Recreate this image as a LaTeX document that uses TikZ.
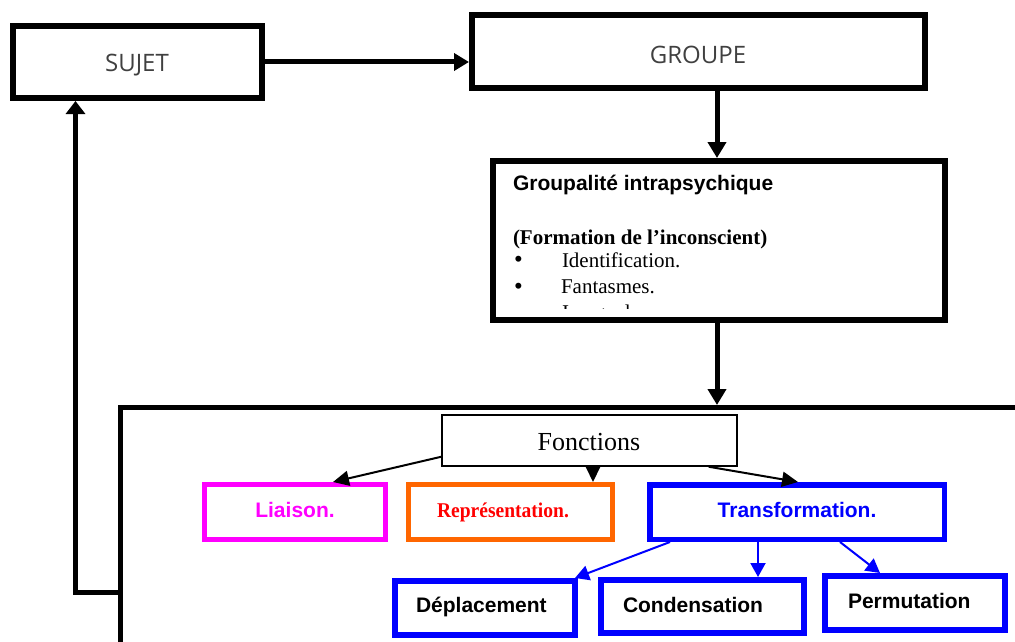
\documentclass[tikz,border=0pt]{standalone}
\usepackage{fontspec}
\setmainfont{Liberation Serif}
\newfontfamily\arialf{Liberation Sans}
\newfontfamily\osans{Open Sans}
\usetikzlibrary{arrows.meta,calc}
\definecolor{mag}{HTML}{FF00FF}
\definecolor{orng}{HTML}{FF6600}
\definecolor{rd}{HTML}{FF0000}
\definecolor{bl}{HTML}{0000FF}
\definecolor{txtgray}{HTML}{404040}
\begin{document}
\begin{tikzpicture}[x=1pt,y=-1pt,
  boxnode/.style={draw,inner sep=0pt,line width=6pt},
  cbox/.style={draw=#1,inner sep=0pt,line width=5.5pt},
  lbl/.style={inner sep=0pt,outer sep=0pt},
  osfont/.style={font=\osans\fontsize{24}{28}\selectfont,text=txtgray},
  arb/.style={font=\arialf\bfseries\fontsize{21}{25}\selectfont},
  tmr/.style={font=\fontsize{21}{25}\selectfont},
  bulletfont/.style={font=\arialf\fontsize{22}{22}\selectfont},
  thickarrow/.style={line width=5pt,-{Triangle[length=16pt,width=18pt]}},
  thinarrow/.style={line width=2pt,-{Triangle[length=16pt,width=15pt]}},
  bluearrow/.style={line width=2pt,draw=bl,-{Triangle[length=14pt,width=15pt,fill=bl]}}]
\useasboundingbox (0,0) rectangle (1015,642);
\fill[white] (0,0) rectangle (1015,642);

% top boxes
\node[boxnode,minimum width=249pt,minimum height=72pt] (sujet) at (137.5,62) {};
\node[lbl,osfont,anchor=base] (sujett) at (137,71) {SUJET};
\node[boxnode,minimum width=453pt,minimum height=73pt] (groupe) at (698.5,51.5) {};
\node[lbl,osfont,anchor=base] (groupet) at (698,64) {GROUPE};

% groupalite box
\node[boxnode,minimum width=452pt,minimum height=159pt] (gpi) at (718.5,240.5) {};
\node[lbl,arb,anchor=base west] (gpit) at (513,190) {Groupalité intrapsychique};
\node[lbl,font=\bfseries\fontsize{21}{25}\selectfont,anchor=base west] (form) at (513,244) {(Formation de l’inconscient)};
\node[lbl,bulletfont] (b1) at (518.5,261) {•};
\node[lbl,tmr,anchor=base west] (ident) at (562,267) {Identification.};
\node[lbl,bulletfont] (b2) at (518.5,288) {•};
\node[lbl,tmr,anchor=base west] (fant) at (561,293) {Fantasmes.};
\begin{scope}
  \clip (495,300) rectangle (900,308);
  \node[lbl,tmr,anchor=base west] (img) at (562,319) {Image du corps.};
\end{scope}

% big lower frame
\begin{scope}
  \clip (0,0) rectangle (1015,642);
  \draw[line width=5pt] (120,680) -- (120,407.5) -- (1060,407.5);
\end{scope}
\coordinate (bigtop) at (717,405);
\coordinate (bigleft) at (117.5,592);

% fonctions
\node[draw,inner sep=0pt,line width=1.5pt,minimum width=295pt,minimum height=51pt] (fonc) at (589.5,440.5) {};
\node[lbl,font=\fontsize{26}{30}\selectfont,anchor=base] (fonct) at (589,450) {Fonctions};

\node[cbox=mag,line width=5pt,minimum width=181pt,minimum height=55pt] (liai) at (295,512) {};
\node[lbl,arb,text=mag,anchor=base] (liait) at (295,517) {Liaison.};
\node[cbox=orng,line width=5pt,minimum width=204pt,minimum height=55pt] (repr) at (510.5,512) {};
\node[lbl,text=rd,font=\bfseries\fontsize{21}{25}\selectfont,anchor=base] (reprt) at (503,517) {\scalebox{0.93}[1]{Représentation.}};
\node[cbox=bl,minimum width=294.5pt,minimum height=54.5pt] (trans) at (797,512) {};
\node[lbl,arb,text=bl,anchor=base] (transt) at (797,517) {Transformation.};

\node[cbox=bl,line width=6pt,minimum width=180pt,minimum height=54pt] (depl) at (485,608) {};
\node[lbl,arb,anchor=base west] (deplt) at (416,612) {Déplacement};
\node[cbox=bl,line width=6pt,minimum width=203pt,minimum height=53pt] (cond) at (702.5,606.5) {};
\node[lbl,arb,anchor=base west] (condt) at (623,612) {Condensation};
\node[cbox=bl,line width=6pt,minimum width=180pt,minimum height=54pt] (perm) at (915,603) {};
\node[lbl,arb,anchor=base west] (permt) at (848,608) {Permutation};

% connectors
\draw[line width=5pt,-{Triangle[length=15pt,width=17pt]}] (sujet.east) -- (groupe.west |- sujet.east);
\draw[thickarrow] ($(groupe.south)+(18.5,0)$) -- ($(gpi.north)+(-1.5,0)$);
\draw[thickarrow] ($(gpi.south)+(-1.5,0)$) -- (bigtop);
\draw[line width=5pt,-{Triangle[length=13pt,width=19pt]}] (bigleft) -| ($(sujet.south west)+(65.5,0)$);

\draw[thinarrow] ($(fonc.south west)+(0,-10)$) -- ($(liai.north)+(38,0)$);
\draw[thinarrow] ($(fonc.south)+(3.5,0)$) -- ($(repr.north)+(82.5,0)$);
\draw[thinarrow] ($(fonc.south east)+(-29,0)$) -- ($(trans.north)+(1,0)$);

\draw[bluearrow] ($(trans.south west)+(23,0)$) -- ($(depl.north east)+(-3,0)$);
\draw[bluearrow] ($(trans.south)+(-39,0)$) -- ($(cond.north)+(55.5,0)$);
\draw[bluearrow] ($(trans.south)+(43,0)$) -- ($(perm.north)+(-35,0)$);
\end{tikzpicture}
\end{document}
